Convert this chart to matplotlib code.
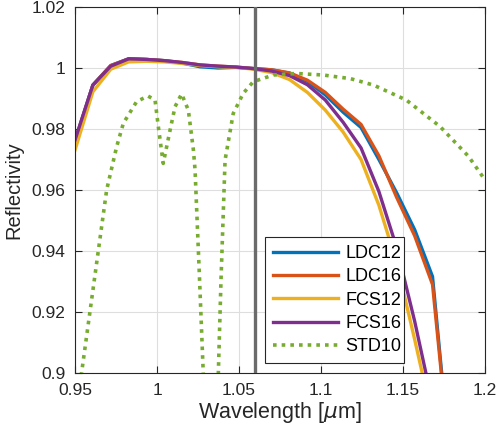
import numpy as np
import matplotlib
matplotlib.use("Agg")
import matplotlib.pyplot as plt

plt.rcParams['font.family'] = ['Liberation Sans', 'DejaVu Sans']

# common wavelength grid of the coating curves [um]
wl = [0.950, 0.9609, 0.9718, 0.9827, 0.9936, 1.0045, 1.0154, 1.0263, 1.0372, 1.0481, 1.059,
      1.0699, 1.0808, 1.0917, 1.1026, 1.1135, 1.1244, 1.1353, 1.1462, 1.1571, 1.168, 1.1789]

ldc12 = [0.9760, 0.9944, 1.0008, 1.0030, 1.0028, 1.0024, 1.0016, 1.0004, 1.0000, 1.0002, 0.9998,
         0.9994, 0.9983, 0.9956, 0.9912, 0.9855, 0.9805, 0.9700, 0.9590, 0.9470, 0.9316, 0.8700]
ldc16 = [0.9760, 0.9944, 1.0008, 1.0030, 1.0028, 1.0024, 1.0018, 1.0010, 1.0006, 1.0003, 0.9998,
         0.9994, 0.9984, 0.9960, 0.9920, 0.9865, 0.9815, 0.9712, 0.9575, 0.9450, 0.9290, 0.8700]
fcs12 = [0.9731, 0.9922, 0.9996, 1.0020, 1.0022, 1.0020, 1.0015, 1.0008, 1.0004, 1.0002, 0.9996,
         0.9985, 0.9962, 0.9920, 0.9862, 0.9790, 0.9700, 0.9550, 0.9360, 0.9110, 0.8850, 0.8600]
fcs16 = [0.9764, 0.9944, 1.0006, 1.0030, 1.0028, 1.0024, 1.0018, 1.0010, 1.0006, 1.0003, 0.9998,
         0.9990, 0.9975, 0.9945, 0.9895, 0.9822, 0.9738, 0.9595, 0.9410, 0.9170, 0.8900, 0.8600]

# standard design, read separately
wl_std = [0.950, 0.954, 0.9693, 0.9754, 0.9795, 0.9876, 0.9945, 0.9988, 1.0008, 1.0038,
          1.008, 1.011, 1.015, 1.0191, 1.0222, 1.0232, 1.026, 1.0282, 1.033, 1.0374, 1.039,
          1.0415, 1.0465, 1.0526, 1.0587, 1.0709, 1.085, 1.1013, 1.118, 1.132, 1.152,
          1.1726, 1.19, 1.2]
std10 = [0.885, 0.900, 0.9600, 0.9742, 0.9819, 0.9890, 0.9908, 0.9895, 0.9808, 0.9687,
         0.9797, 0.9873, 0.9915, 0.9862, 0.9731, 0.9666, 0.9300, 0.9000, 0.8600, 0.9000, 0.9300,
         0.9698, 0.9851, 0.9917, 0.9955, 0.9977, 0.9982, 0.9977, 0.9965, 0.9944, 0.9895,
         0.9808, 0.9710, 0.9633]

laser_wl = 1.06

fig = plt.figure(figsize=(5, 4.34), dpi=100)
ax = fig.add_axes([0.15, 0.1406, 0.82, 0.8433])

lw = 2.4
ax.plot(wl, ldc12, color=(0, 0.447, 0.741), lw=lw, label='LDC12')
ax.plot(wl, ldc16, color=(0.85, 0.325, 0.098), lw=lw, label='LDC16')
ax.plot(wl, fcs12, color=(0.929, 0.694, 0.125), lw=lw, label='FCS12')
ax.plot(wl, fcs16, color=(0.494, 0.184, 0.556), lw=lw, label='FCS16')
ax.plot(wl_std, std10, color=(0.466, 0.674, 0.188), lw=2.6, linestyle=(0, (1, 1.4)), label='STD10')
ax.axvline(laser_wl, color=(0.42, 0.42, 0.42), lw=2.4, zorder=5)

ax.set_xlim(0.95, 1.2)
ax.set_ylim(0.9, 1.02)
ax.set_xticks([0.95, 1, 1.05, 1.1, 1.15, 1.2])
ax.set_xticklabels(['0.95', '1', '1.05', '1.1', '1.15', '1.2'])
ax.set_yticks([0.9, 0.92, 0.94, 0.96, 0.98, 1, 1.02])
ax.set_yticklabels(['0.9', '0.92', '0.94', '0.96', '0.98', '1', '1.02'])
ax.grid(True, color=(0.87, 0.87, 0.87), lw=0.8)
ax.set_axisbelow(True)
ax.tick_params(direction='in', top=True, right=True, labelsize=12.5, colors=(0.15, 0.15, 0.15), length=5)
ax.tick_params(axis='x', pad=7)
ax.tick_params(axis='y', pad=7)
for s in ax.spines.values():
    s.set_color((0.15, 0.15, 0.15))
    s.set_linewidth(0.8)

ax.set_xlabel(r'Wavelength [$\mu$m]', fontsize=15.5, color=(0.15, 0.15, 0.15), labelpad=2)
ax.set_ylabel('Reflectivity', fontsize=14.5, color=(0.15, 0.15, 0.15), labelpad=6)

leg = ax.legend(loc='lower left', bbox_to_anchor=(0.463, 0.026, 0.339, 0.356), mode='expand',
                borderaxespad=0, fontsize=13, fancybox=False, framealpha=1,
                edgecolor=(0.15, 0.15, 0.15), handlelength=3.6, handletextpad=0.4,
                borderpad=0.45, labelspacing=0.35)
leg.get_frame().set_linewidth(0.8)
leg.set_zorder(10)

fig.savefig('out.png', dpi=100)
